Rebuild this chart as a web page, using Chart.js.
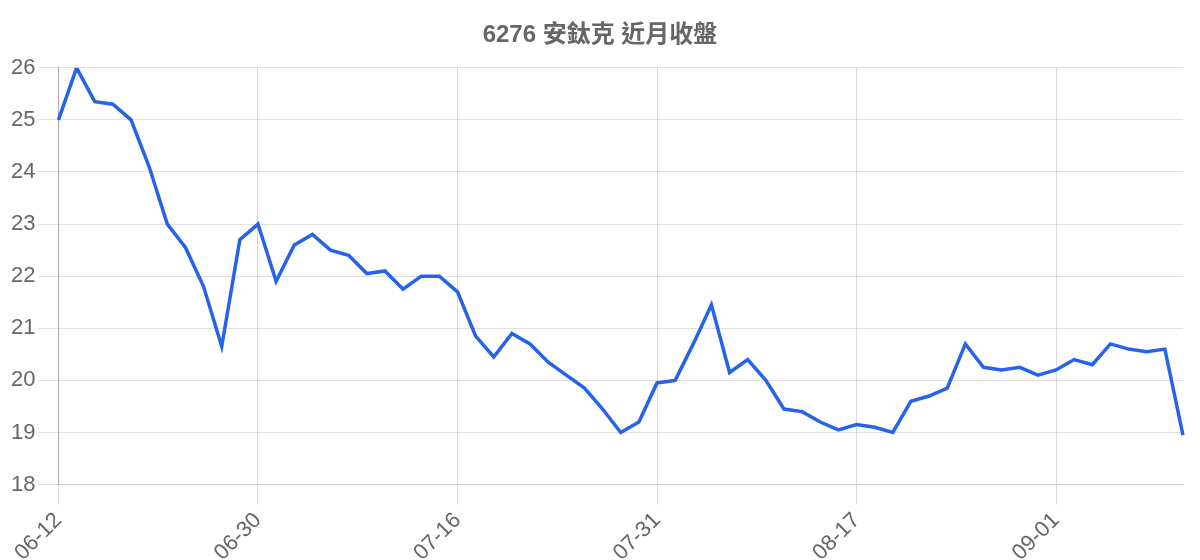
<!DOCTYPE html>
<html>
<head>
<meta charset="utf-8">
<script src="https://cdn.jsdelivr.net/npm/chart.js@4"></script>
<style>
html,body{margin:0;padding:0;background:#fff;}
#wrap{width:1200px;height:560px;}
</style>
</head>
<body>
<div id="wrap"><canvas id="c" width="1200" height="560"></canvas></div>
<script>
const titleText = "6276 安鈦克 近月收盤";
const dates = [
  "06-12","06-13","06-14","06-15","06-18","06-19","06-20","06-21","06-25","06-26","06-27",
  "06-30","07-01","07-02","07-03","07-04","07-05","07-08","07-09","07-10","07-11","07-12",
  "07-16","07-17","07-18","07-19","07-22","07-23","07-24","07-25","07-26","07-29","07-30",
  "07-31","08-01","08-02","08-05","08-06","08-07","08-08","08-09","08-12","08-13","08-14",
  "08-17","08-18","08-19","08-20","08-21","08-22","08-25","08-26","08-27","08-28","08-29",
  "09-01","09-02","09-03","09-04","09-05","09-08","09-09","09-10"
];
const closes = [
  25.0,26.0,25.35,25.3,25.0,24.1,23.0,22.55,21.8,20.65,22.7,
  23.0,21.9,22.6,22.8,22.5,22.4,22.05,22.1,21.75,22.0,22.0,
  21.7,20.85,20.45,20.9,20.7,20.35,20.1,19.85,19.45,19.0,19.2,
  19.95,20.0,20.7,21.45,20.15,20.4,20.0,19.45,19.4,19.2,19.05,
  19.15,19.1,19.0,19.6,19.7,19.85,20.7,20.25,20.2,20.25,20.1,
  20.2,20.4,20.3,20.7,20.6,20.55,20.6,18.95
];
const yTicks = [18,19,20,21,22,23,24,25,26];
const labelEvery = 11;

const fontFam = "'Liberation Sans', Arial, 'Noto Sans CJK TC', sans-serif";
const yGridCol = 'rgba(0,0,0,0.12)';
const xGridCol = 'rgba(0,0,0,0.15)';

new Chart(document.getElementById('c'), {
  type: 'line',
  data: {
    labels: dates,
    datasets: [{
      data: closes,
      borderColor: '#2563eb',
      backgroundColor: '#2563eb',
      borderWidth: 3.5,
      pointRadius: 0,
      tension: 0,
      fill: false
    }]
  },
  options: {
    responsive: false,
    animation: false,
    devicePixelRatio: 1,
    layout: { padding: { left: 8, right: 8, top: 0, bottom: -9 } },
    plugins: {
      legend: { display: false },
      tooltip: { enabled: false },
      title: {
        display: true,
        text: titleText,
        color: '#666',
        font: { family: fontFam, size: 24, weight: 'bold' },
        padding: { top: 21, bottom: 18 }
      }
    },
    scales: {
      x: {
        afterFit: scale => { scale.paddingRight = 17; },
        ticks: {
          autoSkip: false,
          maxRotation: 45,
          minRotation: 45,
          color: '#666',
          font: { family: fontFam, size: 22 },
          callback: function(v, i) { return i % labelEvery === 0 ? dates[i] : ''; }
        },
        grid: {
          color: ctx => (ctx.index % labelEvery === 0 ? xGridCol : 'rgba(0,0,0,0)'),
          tickColor: ctx => (ctx.index % labelEvery === 0 ? xGridCol : 'rgba(0,0,0,0)'),
          tickLength: 20
        },
        border: { color: '#ccc' }
      },
      y: {
        min: yTicks[0],
        max: yTicks[yTicks.length - 1],
        afterBuildTicks: axis => { axis.ticks = yTicks.map(v => ({ value: v })); },
        ticks: {
          color: '#666',
          font: { family: fontFam, size: 22 },
          padding: 3
        },
        grid: { color: yGridCol, tickLength: 20 },
        border: { color: '#aaa' }
      }
    }
  }
});
</script>
</body>
</html>
